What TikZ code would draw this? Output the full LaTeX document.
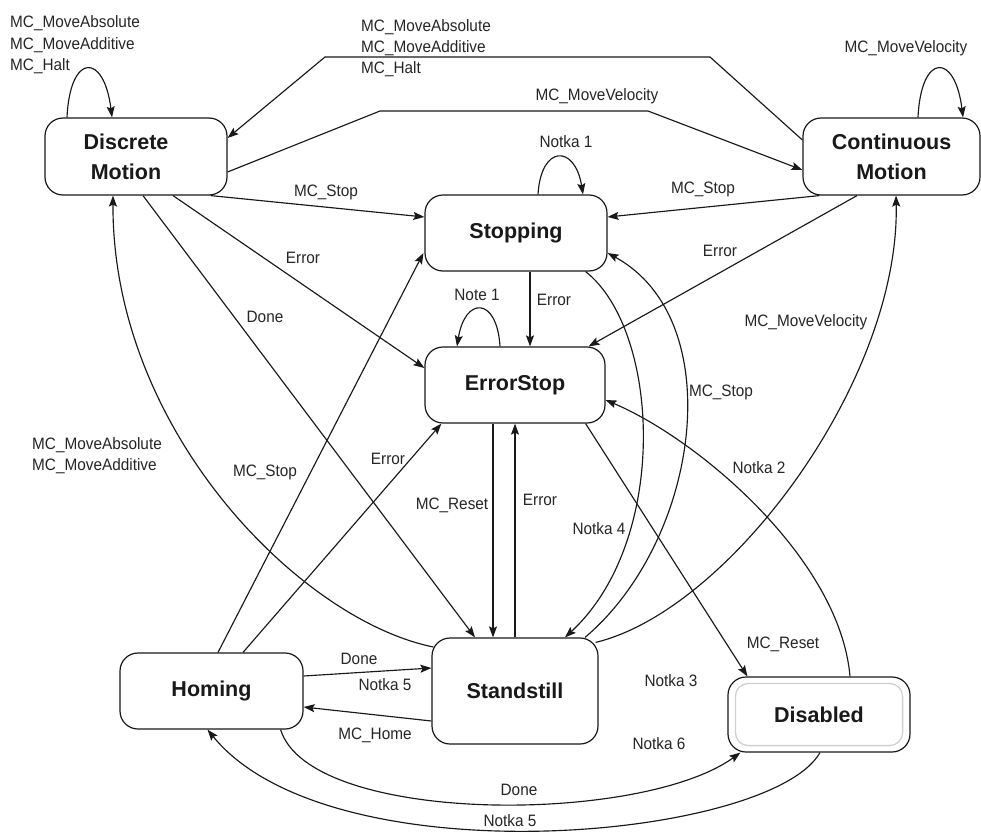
\documentclass[tikz,border=0pt]{standalone}
\usepackage{fontspec}
\setmainfont{Liberation Sans}
\newfontfamily\lblfamily[FakeStretch=0.93]{Liberation Sans}
\usetikzlibrary{calc,arrows.meta}
\begin{document}
\begin{tikzpicture}[x=1pt,y=-1pt,
  state/.style={draw=black!90, line width=1.2pt, rounded corners=18pt, inner sep=0pt,
    align=center, font=\bfseries\fontsize{21.5}{30}\selectfont, text=black!90},
  lbl/.style={font=\lblfamily\fontsize{16.5}{21.3}\selectfont, inner sep=0pt, text=black!85, anchor=base},
  mlbl/.style={font=\lblfamily\fontsize{16.5}{21.3}\selectfont, inner sep=0pt, text=black!85, align=left, anchor=north west},
  tr/.style={draw=black!90, line width=1.15pt, -{Stealth[length=11pt,width=8pt,inset=2pt]}},
  ln/.style={draw=black!90, line width=1.15pt}]
\useasboundingbox[fill=white] (0,0) rectangle (981,832);

% states
\node[state, minimum width=182pt, minimum height=77pt] (DM) at (136,156.5) {\hspace*{-20pt}Discrete\\\hspace*{-20pt}Motion};
\node[state, minimum width=177pt, minimum height=77pt] (CM) at (891.5,156.5) {Continuous\\Motion};
\node[state, minimum width=182pt, minimum height=76pt] (Stop) at (516,233) {Stopping};
\node[state, minimum width=180pt, minimum height=76pt] (ES) at (515,385) {ErrorStop};
\node[state, minimum width=183pt, minimum height=76pt] (Hom) at (211.5,691) {Homing};
\node[state, minimum width=166pt, minimum height=106pt] (SS) at (515,691) {Standstill};
\node[state, minimum width=182pt, minimum height=75pt] (Dis) at (819,714.5) {Disabled};
\draw[black!18, line width=1.3pt, rounded corners=13pt]
  ([shift={(8pt,-7pt)}]Dis.north west) rectangle ([shift={(-8pt,7pt)}]Dis.south east);

% bend points
\coordinate (k1) at (710,57);
\coordinate (k2) at (325,57);
\coordinate (k3) at (380,111);
\coordinate (k4) at (648,111);

% self loops
\draw[tr] ($(DM.north)+(-69,0)$) .. controls +(3,-65) and +(-8,-65) .. ($(DM.north)+(-24,0)$);
\draw[tr] ($(CM.north)+(26.5,0)$) .. controls +(3,-65) and +(-8,-65) .. ($(CM.north)+(71.5,0)$);
\draw[tr] ($(Stop.north)+(22,0)$) .. controls +(3,-50) and +(-8,-50) .. ($(Stop.north)+(67,0)$);
\draw[tr] ($(ES.north)+(-15,0)$) .. controls +(-3,-50) and +(8,-50) .. ($(ES.north)+(-58,0)$);

% top polylines
\draw[tr] ($(CM.west)+(0,-16.5)$) -- (k1) -- (k2) -- ($(DM.east)+(0,-18.5)$);
\draw[tr] ($(DM.east)+(0,15.5)$) -- (k3) -- (k4) -- ($(CM.west)+(0,13.5)$);

% straight transitions
\draw[tr] ($(DM.south east)+(-17,0)$) -- ($(Stop.west)+(0,-16)$);
\draw[tr] ($(CM.south west)+(17,0)$) -- ($(Stop.east)+(0,-16)$);
\draw[tr] ($(DM.south)+(37,0)$) -- ($(ES.west)+(0,-17)$);
\draw[tr] ($(CM.south)+(-34.5,0)$) -- ($(ES.north east)+(-17,0)$);
\draw[tr] ($(Stop.south)+(14,0)$) -- ($(ES.north)+(15,0)$);
\draw[tr] ($(DM.south)+(7,0)$) -- ($(SS.north)+(-40,0)$);
\draw[tr] ($(Hom.north)+(6.5,0)$) -- ($(Stop.west)+(-1,20)$);
\draw[tr] ($(Hom.north)+(31.5,0)$) -- ($(ES.south west)+(17,0)$);
\draw[tr] ($(ES.south)+(-22,0)$) -- ($(SS.north)+(-22,0)$);
\draw[tr] (SS.north) -- (ES.south);
\draw[tr] ($(ES.south east)+(-20,0)$) -- ($(Dis.north west)+(20,0)$);
\draw[tr] ($(Hom.east)+(0,-15)$) -- ($(SS.west)+(0,-23)$);
\draw[tr] ($(SS.west)+(0,30)$) -- ($(Hom.east)+(0,16)$);

% curved transitions
\draw[tr] ($(SS.west)+(2,-44)$) .. controls (300,620) and (112,430) .. ($(DM.south)+(-23,0)$);
\draw[tr] ($(Dis.north)+(31,0)$) .. controls (840,560) and (700,440) .. ($(ES.east)+(0,15)$);
\draw[tr] ($(SS.north east)+(-3,5)$) .. controls (730,610) and (900,380) .. ($(CM.south)+(4.5,0)$);
\draw[tr] ($(SS.north)+(70,0)$) .. controls (700,540) and (730,320) .. ($(Stop.east)+(0,20)$);
\draw[tr] ($(Stop.south east)+(-22,0)$) .. controls (660,330) and (670,540) .. ($(SS.north)+(50,0)$);
\draw[tr] ($(Hom.south east)+(-23,0)$) .. controls (310,825) and (640,825) .. ($(Dis.south west)+(13,0)$);
\draw[tr] ($(Dis.south)+(1,0)$) .. controls (770,840) and (330,880) .. ($(Hom.south)+(-4,0)$);

% labels
\node[mlbl] (l1) at (10,15.8) {MC\_MoveAbsolute\\MC\_MoveAdditive\\MC\_Halt};
\node[mlbl] (l2) at (361,19.1) {MC\_MoveAbsolute\\MC\_MoveAdditive\\MC\_Halt};
\node[mlbl] (l3) at (32,437) {MC\_MoveAbsolute\\MC\_MoveAdditive};
\node[lbl] (l4) at (597,100) {MC\_MoveVelocity};
\node[lbl] (l5) at (906,53) {MC\_MoveVelocity};
\node[lbl] (l6) at (566,147) {Notka 1};
\node[lbl] (l7) at (326,196) {MC\_Stop};
\node[lbl] (l8) at (703,193) {MC\_Stop};
\node[lbl] (l9) at (303,263) {Error};
\node[lbl] (l10) at (720,256) {Error};
\node[lbl] (l11) at (554,305) {Error};
\node[lbl] (l12) at (477,300) {Note 1};
\node[lbl] (l13) at (265,322) {Done};
\node[lbl] (l14) at (806,326) {MC\_MoveVelocity};
\node[lbl] (l15) at (265,476) {MC\_Stop};
\node[lbl] (l16) at (388,464) {Error};
\node[lbl] (l17) at (452,509) {MC\_Reset};
\node[lbl] (l18) at (540,505) {Error};
\node[lbl] (l19) at (599,534) {Notka 4};
\node[lbl] (l20) at (721,396) {MC\_Stop};
\node[lbl] (l21) at (759,473) {Notka 2};
\node[lbl] (l22) at (783,648) {MC\_Reset};
\node[lbl] (l23) at (671,686) {Notka 3};
\node[lbl] (l24) at (659,749) {Notka 6};
\node[lbl] (l25) at (359,664) {Done};
\node[lbl] (l26) at (385,690) {Notka 5};
\node[lbl] (l27) at (375,739) {MC\_Home};
\node[lbl] (l28) at (519,795) {Done};
\node[lbl] (l29) at (510,826) {Notka 5};
\end{tikzpicture}
\end{document}
